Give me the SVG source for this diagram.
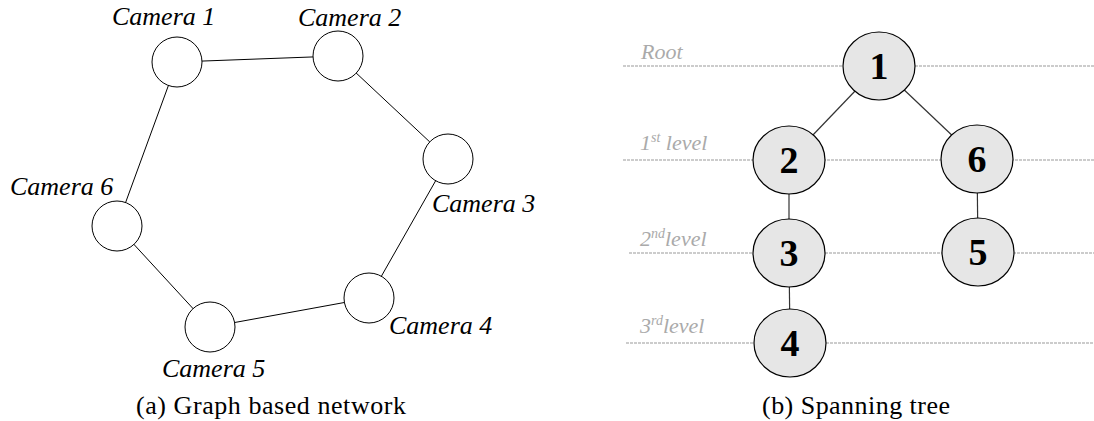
<svg xmlns="http://www.w3.org/2000/svg" width="1094" height="421" viewBox="0 0 1094 421">
<style>
text{font-family:'Liberation Serif','Times New Roman',Times,'DejaVu Serif',serif}
.cam{font-style:italic;font-size:26px;fill:#000}
.cap{font-size:26px;fill:#000}
.lvl{font-style:italic;font-size:22px;fill:#aaa}
.sup{font-size:14px}
.num{font-weight:bold;font-size:38px;fill:#000;text-anchor:middle}
.c{fill:#fff;stroke:#000;stroke-width:1}
.t{fill:#e6e6e6;stroke:#000;stroke-width:1.2}
.e{stroke:#000;stroke-width:1;fill:none}
.te{stroke:#333;stroke-width:1.2;fill:none}
.dash{stroke:#999;stroke-width:1;stroke-dasharray:3 1;fill:none}
</style>
<g id="connectors">
<line class="e" x1="177" y1="62" x2="338" y2="56"/>
<line class="e" x1="338" y1="56" x2="448" y2="159"/>
<line class="e" x1="448" y1="159" x2="369" y2="298"/>
<line class="e" x1="369" y1="298" x2="210" y2="327"/>
<line class="e" x1="210" y1="327" x2="117" y2="226"/>
<line class="e" x1="117" y1="226" x2="177" y2="62"/>
<line class="te" x1="879" y1="66" x2="789" y2="160"/>
<line class="te" x1="879" y1="66" x2="977" y2="159"/>
<line class="te" x1="789" y1="160" x2="789" y2="253"/>
<line class="te" x1="789" y1="253" x2="790" y2="343"/>
<line class="te" x1="977" y1="159" x2="978" y2="252"/>
</g>
<g id="levels">
<line class="dash" x1="623" y1="66" x2="1094" y2="66"/>
<line class="dash" x1="623" y1="160" x2="1094" y2="160"/>
<line class="dash" x1="629" y1="253" x2="1094" y2="253"/>
<line class="dash" x1="626" y1="343" x2="1094" y2="343"/>
<text class="lvl" x="641" y="59">Root</text>
<text class="lvl" x="640" y="150">1<tspan class="sup" dy="-8">st</tspan><tspan dy="8"> level</tspan></text>
<text class="lvl" x="640" y="246">2<tspan class="sup" dy="-8">nd</tspan><tspan dy="8">level</tspan></text>
<text class="lvl" x="640" y="333">3<tspan class="sup" dy="-8">rd</tspan><tspan dy="8">level</tspan></text>
</g>
<g id="cam1"><circle class="c" cx="177" cy="62" r="25"/><text class="cam" x="112" y="25">Camera 1</text></g>
<g id="cam2"><circle class="c" cx="338" cy="56" r="25"/><text class="cam" x="298" y="26">Camera 2</text></g>
<g id="cam3"><circle class="c" cx="448" cy="159" r="25"/><text class="cam" x="432" y="212">Camera 3</text></g>
<g id="cam4"><circle class="c" cx="369" cy="298" r="25"/><text class="cam" x="389" y="334">Camera 4</text></g>
<g id="cam5"><circle class="c" cx="210" cy="327" r="25"/><text class="cam" x="162" y="377">Camera 5</text></g>
<g id="cam6"><circle class="c" cx="117" cy="226" r="25"/><text class="cam" x="10" y="195">Camera 6</text></g>
<g id="n1"><ellipse class="t" cx="879" cy="66" rx="36" ry="34"/><text class="num" x="879" y="79">1</text></g>
<g id="n2"><ellipse class="t" cx="789" cy="160" rx="36" ry="34"/><text class="num" x="789" y="173">2</text></g>
<g id="n6"><ellipse class="t" cx="977" cy="159" rx="36" ry="34"/><text class="num" x="977" y="172">6</text></g>
<g id="n3"><ellipse class="t" cx="789" cy="253" rx="36" ry="34"/><text class="num" x="789" y="266">3</text></g>
<g id="n5"><ellipse class="t" cx="978" cy="252" rx="36" ry="34"/><text class="num" x="978" y="265">5</text></g>
<g id="n4"><ellipse class="t" cx="790" cy="343" rx="36" ry="34"/><text class="num" x="790" y="356">4</text></g>
<g id="captions">
<text class="cap" x="136" y="414" textLength="270" lengthAdjust="spacing">(a) Graph based network</text>
<text class="cap" x="762" y="414" textLength="188" lengthAdjust="spacing">(b) Spanning tree</text>
</g>
</svg>
